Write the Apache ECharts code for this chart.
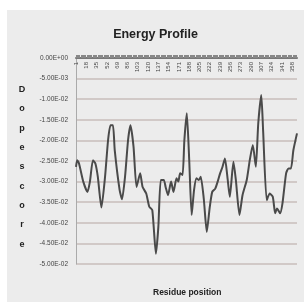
<!DOCTYPE html>
<html>
<head>
<meta charset="utf-8">
<script src="https://cdn.jsdelivr.net/npm/echarts@6/dist/echarts.min.js"></script>
<style>
  html, body { margin: 0; padding: 0; background: #fff; }
  #chart { position: absolute; left: 7px; top: 10px; width: 297px; height: 292px; }
</style>
</head>
<body>
<div id="chart"></div>
<script>
// residue numbers shown on the axis (1 .. 366)
var residues = Array.from({ length: 366 }, function (_, i) { return String(i + 1) })

// points: residue position and DOPE energy
var position = [1, 3, 6, 13, 20, 24, 29, 33, 37, 43, 49, 54, 58, 62, 65, 73, 77, 82, 87, 91,
  96, 101, 107, 111, 117, 122, 127, 133, 137, 141, 146, 149, 153, 158, 162, 167, 170, 173, 177, 180,
  184, 188, 192, 196, 200, 204, 207, 212, 217, 222, 226, 231, 235, 239, 243, 247, 251, 255, 261, 265,
  271, 276, 283, 288, 293, 298, 302, 307, 310, 316, 321, 326, 330, 333, 338, 342, 348, 352, 356, 360, 366]
var energy = [-0.0264, -0.0248, -0.0256, -0.0300, -0.0325, -0.0300, -0.0248, -0.0256, -0.0288, -0.0363,
  -0.0288, -0.0199, -0.0163, -0.0163, -0.0224, -0.0320, -0.0343, -0.0288, -0.0199, -0.0163,
  -0.0215, -0.0313, -0.0280, -0.0313, -0.0329, -0.0361, -0.0369, -0.0475, -0.0410, -0.0296,
  -0.0296, -0.0313, -0.0333, -0.0300, -0.0325, -0.0292, -0.0300, -0.0280, -0.0284, -0.0199,
  -0.0134, -0.0248, -0.0381, -0.0320, -0.0292, -0.0296, -0.0288, -0.0341, -0.0422, -0.0361,
  -0.0325, -0.0317, -0.0300, -0.0280, -0.0264, -0.0244, -0.0288, -0.0337, -0.0252, -0.0296,
  -0.0381, -0.0333, -0.0296, -0.0248, -0.0211, -0.0264, -0.0159, -0.0090, -0.0175, -0.0345,
  -0.0329, -0.0337, -0.0377, -0.0365, -0.0377, -0.0353, -0.0280, -0.0268, -0.0268, -0.0224, -0.0183]

var yMin = -0.05
var yMax = 0
var yStep = 0.005

function sci(v) {
  if (Math.abs(v) < 1e-12) return '0.00E+00'
  var parts = v.toExponential(2).split('e')
  var n = parseInt(parts[1], 10)
  return parts[0] + 'E' + (n < 0 ? '-' : '+') + String(Math.abs(n)).padStart(2, '0')
}

var font = '"Liberation Sans Narrow", "Liberation Sans", Arial, sans-serif'

var chart = echarts.init(document.getElementById('chart'))
var option = {
  backgroundColor: '#ececec',
  animation: false,
  textStyle: { fontFamily: font },
  title: [{
    text: 'Energy Profile',
    left: 'center',
    top: 13,
    textStyle: { fontFamily: font, fontSize: 12.5, fontWeight: 'bold', color: '#222' }
  }, {
    text: 'Residue position',
    left: 141,
    top: 273,
    textStyle: { fontFamily: font, fontSize: 8.5, fontWeight: 'bold', color: '#222' }
  }],
  // vertical axis title, one letter per line like the original
  graphic: [{
    type: 'text',
    x: 15,
    y: 70,
    style: {
      text: 'D\no\np\ne\ns\nc\no\nr\ne',
      font: 'bold 9px ' + font,
      lineHeight: 19.3,
      fill: '#222',
      textAlign: 'center',
      textVerticalAlign: 'top'
    }
  }],
  grid: { left: 69, right: 7, top: 48, bottom: 38 },
  xAxis: {
    type: 'category',
    position: 'top',
    data: residues,
    boundaryGap: false,
    axisLine: { lineStyle: { color: '#777', width: 2 } },
    axisTick: { show: true, interval: 1, length: 3, lineStyle: { color: '#888' } },
    axisLabel: {
      inside: true,
      rotate: 90,
      interval: 16,
      margin: 4,
      fontSize: 6,
      color: '#444'
    },
    splitLine: { show: false }
  },
  yAxis: {
    type: 'value',
    min: yMin,
    max: yMax,
    interval: yStep,
    axisLine: { show: true, lineStyle: { color: '#aaa', width: 1 } },
    axisTick: { show: false },
    axisLabel: { formatter: sci, fontSize: 6.5, color: '#444', margin: 8 },
    splitLine: { lineStyle: { color: '#c8bebb', width: 1.5 } }
  },
  series: [{
    type: 'line',
    data: position.map(function (p, i) { return [p - 1, energy[i]] }),
    smooth: 0.2,
    symbol: 'none',
    lineStyle: { color: '#4a4a4a', width: 2 }
  }]
}
chart.setOption(option)
</script>
</body>
</html>
